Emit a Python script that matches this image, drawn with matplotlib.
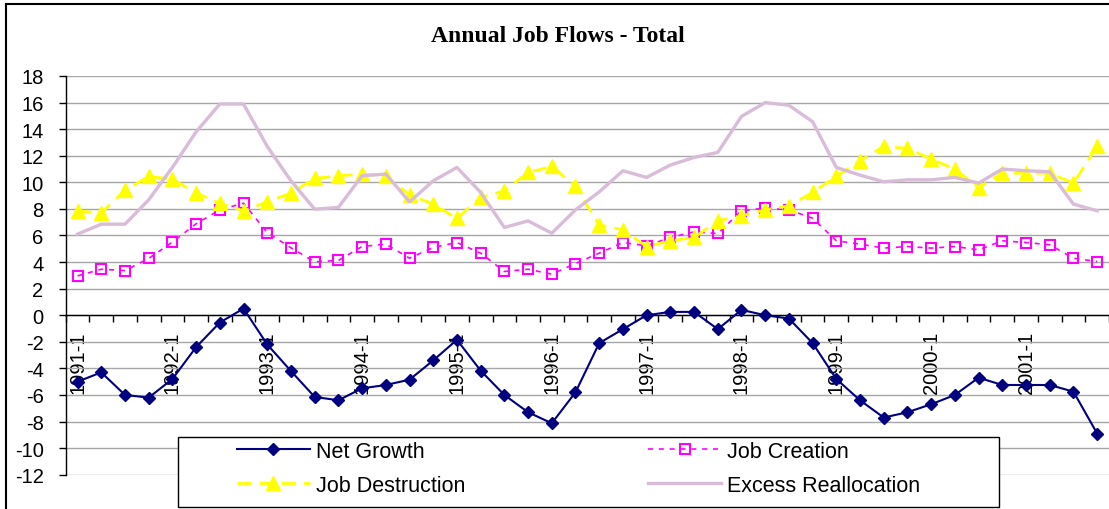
import numpy as np
import matplotlib
matplotlib.use("Agg")
import matplotlib.pyplot as plt
from matplotlib.lines import Line2D
from matplotlib.patches import Rectangle

plt.rcParams['font.family'] = ['Liberation Sans', 'DejaVu Sans']
plt.rcParams['axes.unicode_minus'] = False

# ── data (quarterly) ──────────────────────────────────────────────────────
years = list(range(1991, 2002))
quarters = [f"{y}-{q}" for y in years for q in range(1, 5)]

net_growth = [-5.0, -4.3, -6.0, -6.2, -4.8, -2.4, -0.55, 0.5,
              -2.2, -4.2, -6.15, -6.4, -5.5, -5.25, -4.85, -3.4,
              -1.85, -4.17, -6.0, -7.3, -8.13, -5.8, -2.1, -1.05,
              0.0, 0.25, 0.25, -1.05, 0.4, 0.0, -0.25, -2.1,
              -4.8, -6.4, -7.7, -7.3, -6.7, -6.0, -4.7, -5.25,
              -5.25, -5.25, -5.75, -8.9]

job_creation = [2.96, 3.46, 3.36, 4.27, 5.5, 6.88, 7.93, 8.43,
                6.22, 5.07, 4.02, 4.12, 5.17, 5.35, 4.29, 5.1,
                5.47, 4.67, 3.29, 3.46, 3.09, 3.89, 4.67, 5.47,
                5.22, 5.85, 6.27, 6.15, 7.86, 8.06, 7.93, 7.3,
                5.6, 5.35, 5.05, 5.17, 5.05, 5.17, 4.92, 5.6,
                5.47, 5.3, 4.29, 4.04]

job_destruction = [7.86, 7.68, 9.41, 10.44, 10.24, 9.19, 8.43, 7.86,
                   8.53, 9.19, 10.29, 10.49, 10.62, 10.49, 9.06, 8.36,
                   7.28, 8.86, 9.36, 10.74, 11.2, 9.69, 6.8, 6.42,
                   5.17, 5.6, 5.85, 7.1, 7.48, 7.93, 8.23, 9.24,
                   10.44, 11.62, 12.7, 12.55, 11.75, 11.0, 9.61, 10.69,
                   10.69, 10.69, 9.94, 12.7]

excess_realloc = [6.1, 6.85, 6.85, 8.68, 11.12, 13.8, 15.89, 15.89,
                  12.7, 10.11, 7.98, 8.11, 10.49, 10.62, 8.53, 10.11,
                  11.12, 9.24, 6.6, 7.1, 6.17, 7.93, 9.28, 10.87,
                  10.37, 11.3, 11.87, 12.25, 14.96, 16.0, 15.8, 14.56,
                  11.12, 10.54, 10.04, 10.19, 10.19, 10.37, 9.94, 11.0,
                  10.87, 10.79, 8.36, 7.86]

x = np.arange(len(quarters))

W, H = 1109, 510
fig = plt.figure(figsize=(W / 100, H / 100), dpi=100)
fig.patch.set_facecolor('white')

# plot area in pixels: left 65.7, right 1109, top 77 (18), bottom 475.7 (-12)
ax = fig.add_axes([65.7 / W, (H - 475.7) / H, (1109 - 65.7) / W, (475.7 - 77) / H])
ax.set_facecolor('none')

ax.plot(x, net_growth, color='#000080', lw=1.5, marker='D', ms=6,
        mfc='#000080', mec='#000080', label='Net Growth', zorder=3)
ax.plot(x, job_creation, color='#FF00FF', lw=1.2, ls=(0, (3, 3.5)),
        marker='s', ms=7.5, mfc='none', mec='#FF00FF', mew=1.5,
        label='Job Creation', zorder=3)
ax.plot(x, job_destruction, color='#FFFF00', lw=2.0, ls=(0, (5, 3)),
        marker='^', ms=9.5, mfc='#FFFF00', mec='#FFFF00',
        label='Job Destruction', zorder=3)
ax.plot(x, excess_realloc, color='#D8BCD8', lw=2.4,
        label='Excess Reallocation', zorder=3)

ax.set_xlim(-0.5, -0.5 + (1109 - 65.7) / 23.73)
ax.set_ylim(-12, 18)
ax.set_yticks(np.arange(-12, 19, 2))
ax.yaxis.grid(True, color='#A6A6A6', lw=1.0, zorder=0)
ax.set_axisbelow(True)

for side in ('top', 'right'):
    ax.spines[side].set_visible(False)
ax.spines['left'].set_color('black')
ax.spines['left'].set_linewidth(1.0)
ax.spines['bottom'].set_position(('data', 0))
ax.spines['bottom'].set_color('black')
ax.spines['bottom'].set_linewidth(1.0)

# tick marks between categories, labels every fourth quarter
ax.set_xticks(np.arange(len(quarters) + 1) - 0.5)
ax.set_xticklabels([])
ax.set_xticks(x[::4], minor=True)
ax.set_xticklabels(quarters[::4], minor=True, rotation=90, fontsize=14.5)
ax.tick_params(axis='x', which='major', direction='out', length=5, width=1)
ax.tick_params(axis='x', which='minor', length=0, pad=11)
ax.tick_params(axis='y', direction='out', length=5.4, width=1, pad=10.5,
               labelsize=14.5)

fig.text(557.5 / W, 1 - 37 / H, 'Annual Job Flows - Total',
         family='Liberation Serif', weight='bold', fontsize=17,
         ha='center', va='center')

# chart border (top and left visible)
fig.add_artist(Line2D([6 / W, 6 / W], [0, 1 - 5 / H], color='black', lw=1.5,
                      transform=fig.transFigure))
fig.add_artist(Line2D([6 / W, 1], [1 - 5 / H, 1 - 5 / H], color='black', lw=1.5,
                      transform=fig.transFigure))

# legend box
fig.add_artist(Rectangle((178 / W, (H - 508) / H), (999 - 178) / W, (508 - 437.7) / H,
                         transform=fig.transFigure, facecolor='white',
                         edgecolor='black', lw=1.0, zorder=5))
h, l = ax.get_legend_handles_labels()
leg_kw = dict(loc='upper left', frameon=False, borderpad=0, borderaxespad=0,
              handlelength=3.4, handletextpad=0.27, labelspacing=0.6,
              fontsize=15.5)
leg1 = fig.legend([h[0], h[2]], [l[0], l[2]],
                  bbox_to_anchor=(236.7 / W, 1 - 442 / H), **leg_kw)
leg2 = fig.legend([h[1], h[3]], [l[1], l[3]],
                  bbox_to_anchor=(648 / W, 1 - 442 / H), **leg_kw)
leg1.set_zorder(6)
leg2.set_zorder(6)

fig.savefig('out.png', dpi=100, facecolor='white')
